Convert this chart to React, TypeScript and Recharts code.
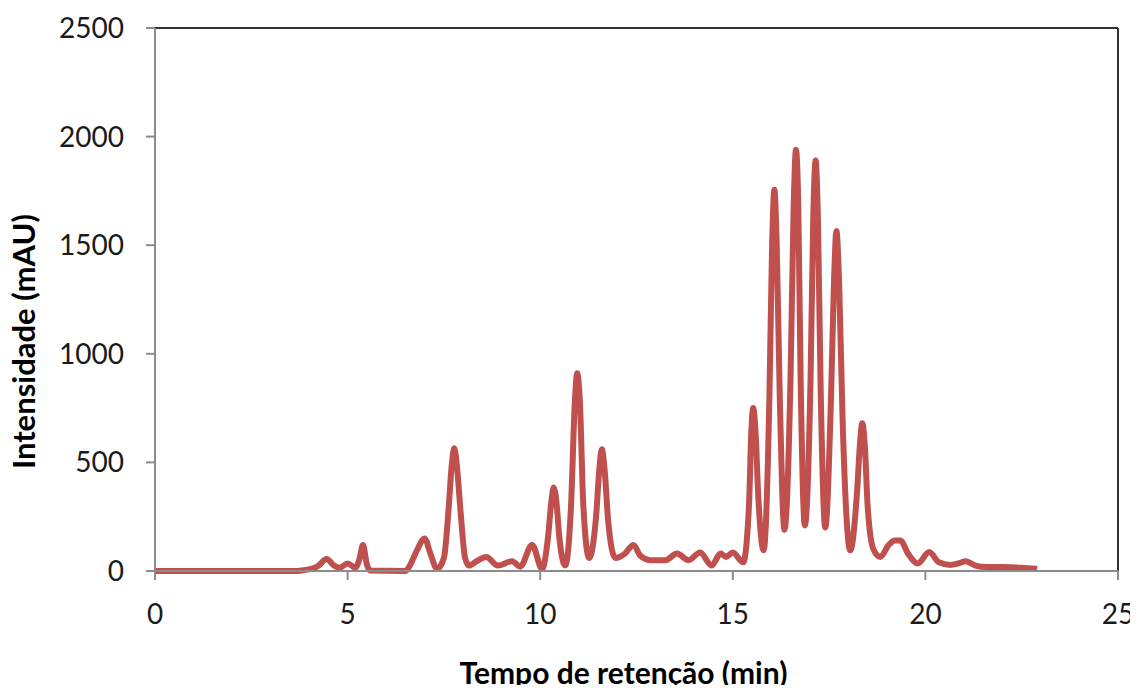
import React from 'react'
import { LineChart, Line, XAxis, YAxis, ReferenceLine, Label } from 'recharts'

// tempo de retenção (min)
const tempos = [
  0, 1, 2, 3, 3.7, 3.9, 4.1, 4.25, 4.45, 4.65, 4.8, 5.0, 5.2, 5.3, 5.4, 5.5, 5.6, 6.5, 6.6, 6.8,
  7.0, 7.15, 7.32, 7.5, 7.62, 7.7, 7.77, 7.84, 7.93, 8.05, 8.15, 8.35, 8.6, 8.9, 9.27, 9.48,
  9.79, 10.05, 10.2, 10.29, 10.35, 10.42, 10.5, 10.65, 10.8, 10.9, 10.96, 11.03, 11.12, 11.27,
  11.45, 11.54, 11.6, 11.67, 11.77, 11.95, 12.2, 12.42, 12.6, 12.85, 13.25, 13.55, 13.85, 14.15,
  14.45, 14.68, 14.83, 15.0, 15.27, 15.42, 15.48, 15.53, 15.59, 15.66, 15.8, 15.95, 16.02,
  16.08, 16.14, 16.22, 16.34, 16.5, 16.58, 16.64, 16.7, 16.76, 16.87, 17.02, 17.09, 17.15,
  17.21, 17.28, 17.4, 17.55, 17.63, 17.69, 17.76, 17.85, 18.05, 18.22, 18.3, 18.36, 18.43,
  18.5, 18.65, 18.83, 19.05, 19.2, 19.35, 19.55, 19.8, 20.1, 20.35, 20.65, 20.85, 21.05, 21.3,
  21.6, 22.0, 22.5, 22.9,
]

// intensidade (mAU)
const intensidades = [
  0, 0, 0, 0, 0, 5, 12, 25, 55, 25, 15, 35, 15, 50, 120, 30, 2, 0, 20, 95,
  150, 80, 10, 60, 280, 480, 565, 480, 280, 60, 25, 45, 65, 25, 45, 20,
  120, 10, 150, 320, 385, 320, 150, 25, 300, 780, 910, 780, 300, 60,
  250, 480, 560, 470, 220, 60, 80, 120, 70, 50, 50, 80, 50, 85,
  25, 80, 65, 85, 40, 300, 640, 750, 640, 350, 95, 800, 1500,
  1755, 1500, 800, 190, 900, 1680, 1940, 1680, 900, 210, 900, 1640, 1890,
  1620, 850, 200, 800, 1350, 1565, 1330, 700, 95, 350, 580, 680, 570,
  300, 100, 65, 120, 140, 140, 80, 35, 87, 40, 28, 35, 45, 25,
  18, 18, 15, 10,
]

const xTicks = [0, 5, 10, 15, 20, 25]
const yTicks = [0, 500, 1000, 1500, 2000, 2500]

const data = tempos.map((t, i) => ({ t, v: intensidades[i] }))

const tickFont = { fontFamily: 'Lato, sans-serif', fontSize: 28, fill: '#1a1a1a' }
const axisGray = '#8c8c8c'

const XTitle = (props: any) => {
  const { viewBox } = props
  return (
    <text
      x={viewBox.x + viewBox.width / 2 - 13}
      y={viewBox.y + 113}
      textAnchor="middle"
      fontFamily="Lato, sans-serif"
      fontWeight="bold"
      fontSize={30}
      fill="#000"
    >
      Tempo de retenção (min)
    </text>
  )
}

const YTitle = (props: any) => {
  const { viewBox } = props
  const cx = 23
  const cy = viewBox.y + viewBox.height / 2 + 42
  return (
    <text
      x={cx}
      y={cy}
      transform={`rotate(-90, ${cx}, ${cy})`}
      textAnchor="middle"
      dominantBaseline="central"
      fontFamily="Lato, sans-serif"
      fontWeight="bold"
      fontSize={31}
      fill="#000"
    >
      Intensidade (mAU)
    </text>
  )
}

export default function App() {
  return (
    <div style={{ margin: -8, width: 1138, height: 693, overflow: 'hidden' }}>
      <LineChart
        width={1138}
        height={693}
        data={data}
        margin={{ top: 28, right: 20, left: 0, bottom: 62 }}
      >
        <XAxis
          dataKey="t"
          type="number"
          domain={[0, 25]}
          ticks={xTicks}
          interval={0}
          height={60}
          stroke={axisGray}
          strokeWidth={2}
          tickSize={9}
          tickMargin={24}
          tick={tickFont}
        >
          <Label content={<XTitle />} />
        </XAxis>
        <YAxis
          type="number"
          domain={[0, 2500]}
          ticks={yTicks}
          interval={0}
          width={155}
          stroke={axisGray}
          strokeWidth={2}
          tickSize={9}
          tickMargin={22}
          tick={tickFont}
        >
          <Label content={<YTitle />} />
        </YAxis>
        <ReferenceLine y={2500} stroke="#333" strokeWidth={2} />
        <ReferenceLine x={25} stroke="#333" strokeWidth={2} />
        <Line
          dataKey="v"
          type="monotone"
          stroke="#C0504D"
          strokeWidth={6}
          dot={false}
          activeDot={false}
          isAnimationActive={false}
        />
      </LineChart>
    </div>
  )
}
